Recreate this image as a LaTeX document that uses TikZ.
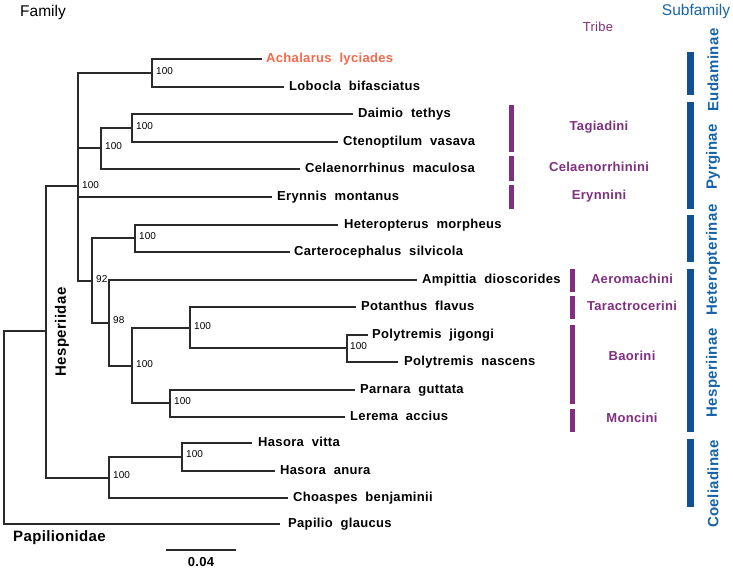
\documentclass[tikz,border=0pt]{standalone}
\usepackage{fontspec}
\setmainfont{Liberation Sans}
\newfontfamily\spfont[LetterSpace=2.5]{Liberation Sans}
\definecolor{tribec}{HTML}{7E2F80}
\definecolor{subbarc}{HTML}{0F5191}
\definecolor{subtc}{HTML}{1763A8}
\definecolor{hilite}{HTML}{F26A4B}
\definecolor{linec}{HTML}{2A2A2A}
\begin{document}
\begin{tikzpicture}[x=1pt,y=-1pt,
  br/.style={draw=linec,line width=1.4pt},
  sp/.style={anchor=mid west,inner sep=0pt,yshift=-1pt,font=\spfont\bfseries\fontsize{13}{15}\selectfont,text=black},
  bs/.style={anchor=mid west,inner sep=0pt,font=\fontsize{10}{11}\selectfont,text=black},
  tribebar/.style={line width=5pt,draw=tribec},
  subbar/.style={line width=7pt,draw=subbarc},
  tribelab/.style={inner sep=0pt,font=\spfont\bfseries\fontsize{13}{15}\selectfont,text=tribec},
  sublab/.style={inner sep=0pt,rotate=90,font=\spfont\bfseries\fontsize{15}{17}\selectfont,text=subtc},
  head/.style={inner sep=0pt,font=\fontsize{15.5}{17}\selectfont}
]
\useasboundingbox (0,0) rectangle (733,570);
% leaf tips
\coordinate (t1) at (262,59);
\coordinate (t2) at (284,87);
\coordinate (t3) at (353,114);
\coordinate (t4) at (338,142);
\coordinate (t5) at (300,169);
\coordinate (t6) at (272,197);
\coordinate (t7) at (338,225);
\coordinate (t8) at (290,252);
\coordinate (t9) at (417,280);
\coordinate (t10) at (356,307);
\coordinate (t11) at (368,335);
\coordinate (t12) at (398,362);
\coordinate (t13) at (355,390);
\coordinate (t14) at (345,417);
\coordinate (t15) at (252,443);
\coordinate (t16) at (275,471);
\coordinate (t17) at (288,498);
\coordinate (t18) at (280,524);
% species labels
\node[sp,text=hilite] (l1) at ([xshift=4pt]t1) {Achalarus~~lyciades};
\node[sp] (l2) at ([xshift=5pt]t2) {Lobocla~~bifasciatus};
\node[sp] (l3) at ([xshift=5pt]t3) {Daimio~~tethys};
\node[sp] (l4) at ([xshift=5pt]t4) {Ctenoptilum~~vasava};
\node[sp] (l5) at ([xshift=5pt]t5) {Celaenorrhinus~~maculosa};
\node[sp] (l6) at ([xshift=5pt]t6) {Erynnis~~montanus};
\node[sp] (l7) at ([xshift=6pt]t7) {Heteropterus~~morpheus};
\node[sp] (l8) at ([xshift=4pt]t8) {Carterocephalus~~silvicola};
\node[sp] (l9) at ([xshift=5pt]t9) {Ampittia~~dioscorides};
\node[sp] (l10) at ([xshift=5pt]t10) {Potanthus~~flavus};
\node[sp] (l11) at ([xshift=4pt]t11) {Polytremis~~jigongi};
\node[sp] (l12) at ([xshift=6pt]t12) {Polytremis~~nascens};
\node[sp] (l13) at ([xshift=5pt]t13) {Parnara~~guttata};
\node[sp] (l14) at ([xshift=5pt]t14) {Lerema~~accius};
\node[sp] (l15) at ([xshift=6pt]t15) {Hasora~~vitta};
\node[sp] (l16) at ([xshift=5pt]t16) {Hasora~~anura};
\node[sp] (l17) at ([xshift=5pt]t17) {Choaspes~~benjaminii};
\node[sp] (l18) at ([xshift=8pt]t18) {Papilio~~glaucus};
% internal nodes
\coordinate (nA) at (152,73);
\coordinate (nB) at (132,128);
\coordinate (nC) at (101,148);
\coordinate (n78) at (78,186);
\coordinate (nHet) at (135,238);
\coordinate (n190) at (190,328);
\coordinate (n347) at (347,348);
\coordinate (n170) at (170,403);
\coordinate (n132) at (132,366);
\coordinate (n109) at (109,323);
\coordinate (n92) at (92,281);
\coordinate (n182) at (182,457);
\coordinate (nCoel) at (109,478);
\coordinate (n46) at (46,331);
\coordinate (root) at (4,428);
% branches
\draw[br] (t1) -| (nA) |- (t2);
\draw[br] (t3) -| (nB) |- (t4);
\draw[br] (nB) -| (nC) |- (t5);
\draw[br] (nA) -| (n78) |- (n92);
\draw[br] (n78 |- nC) -- (nC);
\draw[br] (n78 |- t6) -- (t6);
\draw[br] (t7) -| (nHet) |- (t8);
\draw[br] (nHet) -| (n92) |- (n109);
\draw[br] (t9) -| (n109) |- (n132);
\draw[br] (n190) -| (n132) |- (n170);
\draw[br] (t10) -| (n190) |- (n347);
\draw[br] (t11) -| (n347) |- (t12);
\draw[br] (t13) -| (n170) |- (t14);
\draw[br] (n78) -| (n46) |- (nCoel);
\draw[br] (n182) -| (nCoel) |- (t17);
\draw[br] (t15) -| (n182) |- (t16);
\draw[br] (n46) -| (root) |- (t18);
% bootstrap labels
\node[bs] (bA) at ([xshift=4pt,yshift=1pt]nA) {100};
\node[bs] (bB) at ([xshift=4pt,yshift=1pt]nB) {100};
\node[bs] (bC) at ([xshift=4pt,yshift=1pt]nC) {100};
\node[bs] (b78) at ([xshift=4pt]n78) {100};
\node[bs] (bHet) at ([xshift=4pt,yshift=1pt]nHet) {100};
\node[bs] (b92) at ([xshift=4pt,yshift=1pt]n92) {92};
\node[bs] (b109) at ([xshift=4pt,yshift=2pt]n109) {98};
\node[bs] (b132) at ([xshift=4pt,yshift=1pt]n132) {100};
\node[bs] (b190) at ([xshift=4pt,yshift=1pt]n190) {100};
\node[bs] (b347) at ([xshift=3pt,yshift=1pt]n347) {100};
\node[bs] (b170) at ([xshift=4pt,yshift=1pt]n170) {100};
\node[bs] (b182) at ([xshift=4pt,yshift=2pt]n182) {100};
\node[bs] (bCoel) at ([xshift=4pt,yshift=2pt]nCoel) {100};
% family labels
\node[head,anchor=west] (fam) at (20,12) {Family};
\node[inner sep=0pt,rotate=90,font=\spfont\bfseries\fontsize{15}{17}\selectfont] (hesp) at (62,332) {Hesperiidae};
\node[inner sep=0pt,anchor=west,font=\spfont\bfseries\fontsize{15}{17}\selectfont] (papi) at (13,538) {Papilionidae};
% scale bar
\coordinate (sbl) at (166,550);
\coordinate (sbr) at (236,550);
\draw[br] (sbl) -- (sbr);
\node[inner sep=0pt,font=\spfont\bfseries\fontsize{13}{15}\selectfont] (sbt) at (201,562) {0.04};
% tribe
\node[inner sep=0pt,font=\spfont\fontsize{13}{15}\selectfont,text=tribec] (tribe) at (598,27) {Tribe};
\draw[tribebar] (511,105) -- (511,152);
\draw[tribebar] (511,156) -- (511,181);
\draw[tribebar] (511,185) -- (511,209);
\draw[tribebar] (572,269) -- (572,292);
\draw[tribebar] (572,296) -- (572,319);
\draw[tribebar] (572,325) -- (572,404);
\draw[tribebar] (572,409) -- (572,432);
\node[tribelab] (tr1) at (599,127) {Tagiadini};
\node[tribelab] (tr2) at (599,167) {Celaenorrhinini};
\node[tribelab] (tr3) at (599,196) {Erynnini};
\node[tribelab] (tr4) at (632,279) {Aeromachini};
\node[tribelab] (tr5) at (632,306) {Taractrocerini};
\node[tribelab] (tr6) at (632,356) {Baorini};
\node[tribelab] (tr7) at (632,418) {Moncini};
% subfamily
\node[head,text=subtc] (subf) at (696,11) {Subfamily};
\draw[subbar] (690,52) -- (690,95);
\draw[subbar] (690,102) -- (690,209);
\draw[subbar] (690,215) -- (690,262);
\draw[subbar] (690,269) -- (690,432);
\draw[subbar] (690,439) -- (690,507);
\node[sublab] (sf1) at (713,70) {Eudaminae};
\node[sublab] (sf2) at (713,157) {Pyrginae};
\node[sublab] (sf3) at (713,260) {Heteropterinae};
\node[sublab] (sf4) at (713,373) {Hesperiinae};
\node[sublab] (sf5) at (713,484) {Coeliadinae};
\end{tikzpicture}
\end{document}
